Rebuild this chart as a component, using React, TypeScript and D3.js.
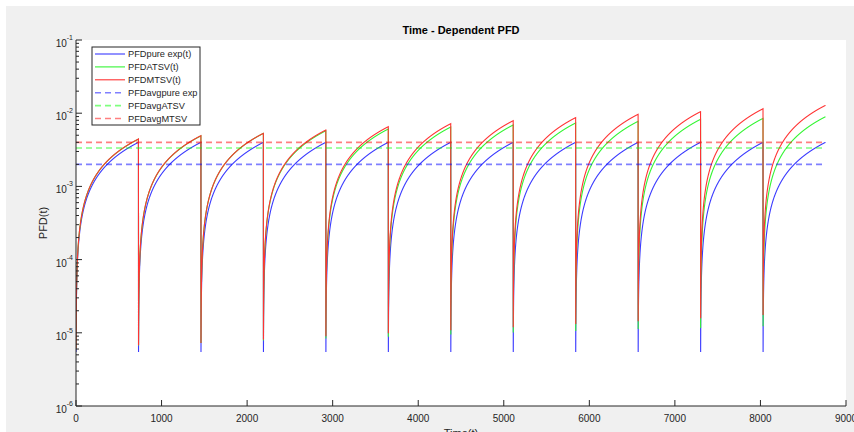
import React from "react";
import * as d3 from "d3";

// ---- data ----
const INTERVAL_HOURS = 730; // proof-test interval
const N_INTERVALS = 12;
// PFD value reached at the end of each test interval
const PEAK_PURE = [4.0e-3, 4.0e-3, 4.0e-3, 4.0e-3, 4.0e-3, 4.0e-3, 4.0e-3, 4.0e-3, 4.0e-3, 4.0e-3, 4.0e-3, 4.0e-3];
const PEAK_ATSV = [4.42e-3, 4.9e-3, 5.3e-3, 5.75e-3, 6.08e-3, 6.47e-3, 6.9e-3, 7.35e-3, 7.75e-3, 8.25e-3, 8.5e-3, 8.95e-3];
const PEAK_MTSV = [4.44e-3, 4.93e-3, 5.31e-3, 5.89e-3, 6.54e-3, 7.19e-3, 7.9e-3, 8.7e-3, 9.66e-3, 10.5e-3, 11.5e-3, 12.8e-3];
// average PFD lines
const AVG_PURE = 2.0e-3;
const AVG_ATSV = 3.35e-3;
const AVG_MTSV = 4.0e-3;

const X_TICKS = [0, 1000, 2000, 3000, 4000, 5000, 6000, 7000, 8000, 9000];
const Y_EXPONENTS = [-6, -5, -4, -3, -2, -1];

const LEGEND = [
  { label: "PFDpure exp(t)", color: "#3a3aff", dashed: false },
  { label: "PFDATSV(t)", color: "#33f533", dashed: false },
  { label: "PFDMTSV(t)", color: "#ff3333", dashed: false },
  { label: "PFDavgpure exp", color: "#0000ff", dashed: true },
  { label: "PFDavgATSV", color: "#00ff00", dashed: true },
  { label: "PFDavgMTSV", color: "#ff0000", dashed: true },
];

// build time series: PFD accumulates linearly inside each interval (sampled hourly)
function buildSeries(peaks: number[]): [number, number][] {
  const pts: [number, number][] = [];
  for (let k = 0; k < N_INTERVALS; k++) {
    for (let tau = 1; tau <= INTERVAL_HOURS; tau++) {
      pts.push([k * INTERVAL_HOURS + tau, (peaks[k] * tau) / INTERVAL_HOURS]);
    }
  }
  return pts;
}

const W = 854;
const H = 432;
const L = 76, R = 846, T = 40, B = 406;
const AX = "#262626";
const FONT = "'Liberation Sans', Arial, Helvetica, sans-serif";

export default function App() {
  const x = d3.scaleLinear().domain([0, 9000]).range([L, R]);
  const y = d3.scaleLog().domain([1e-6, 1e-1]).range([B, T]);
  const line = d3
    .line<[number, number]>()
    .x((d) => x(d[0]))
    .y((d) => y(d[1]));

  const series = [
    { data: buildSeries(PEAK_PURE), color: LEGEND[0].color },
    { data: buildSeries(PEAK_ATSV), color: LEGEND[1].color },
    { data: buildSeries(PEAK_MTSV), color: LEGEND[2].color },
  ];
  const avgs = [
    { v: AVG_PURE, color: "#0000ff" },
    { v: AVG_ATSV, color: "#00ff00" },
    { v: AVG_MTSV, color: "#ff0000" },
  ];
  const tEnd = N_INTERVALS * INTERVAL_HOURS;

  const minorTicks: number[] = [];
  for (let e = -6; e < -1; e++) {
    for (let m = 2; m <= 9; m++) minorTicks.push(m * Math.pow(10, e));
  }

  return (
    <svg
      width={W}
      height={H}
      style={{ position: "absolute", left: 0, top: 0, display: "block" }}
      fontFamily={FONT}
    >
      <rect x={0} y={0} width={W} height={H} fill="#ffffff" />
      <rect x={6} y={6} width={W - 6} height={H - 6} fill="#f0f0f0" />
      <rect x={L} y={T} width={R - L} height={B - T} fill="#ffffff" />

      <defs>
        <clipPath id="plotclip">
          <rect x={L} y={T} width={R - L} height={B - T} />
        </clipPath>
      </defs>

      <g clipPath="url(#plotclip)">
        {series.map((s, i) => (
          <path
            key={i}
            d={line(s.data) || ""}
            fill="none"
            stroke={s.color}
            strokeWidth={1.1}
          />
        ))}
        {avgs.map((a, i) => (
          <line
            key={i}
            x1={x(0)}
            x2={x(tEnd)}
            y1={y(a.v)}
            y2={y(a.v)}
            stroke={a.color}
            strokeWidth={1.6}
            strokeOpacity={0.5}
            strokeDasharray="6,4"
          />
        ))}
      </g>

      {/* axes */}
      <line x1={L} x2={R} y1={B} y2={B} stroke={AX} strokeWidth={1} />
      <line x1={L} x2={L} y1={T} y2={B} stroke={AX} strokeWidth={1} />

      {X_TICKS.map((t) => (
        <g key={t}>
          <line x1={x(t)} x2={x(t)} y1={B} y2={B - 6} stroke={AX} strokeWidth={1} />
          <text x={x(t)} y={421.5} fontSize={10} fill={AX} textAnchor="middle">
            {t}
          </text>
        </g>
      ))}

      {Y_EXPONENTS.map((e) => {
        const yy = y(Math.pow(10, e));
        return (
          <g key={e}>
            <line x1={L} x2={L + 6} y1={yy} y2={yy} stroke={AX} strokeWidth={1} />
            <text x={73} y={yy + 7} fontSize={10} fill={AX} textAnchor="end">
              <tspan>10</tspan>
              <tspan fontSize={7} dy={-7}>{String(e)}</tspan>
            </text>
          </g>
        );
      })}
      {minorTicks.map((v, i) => (
        <line key={i} x1={L} x2={L + 3} y1={y(v)} y2={y(v)} stroke={AX} strokeWidth={1} />
      ))}

      {/* titles */}
      <text x={461} y={33.5} fontSize={11} fontWeight="bold" fill="#000" textAnchor="middle">
        Time - Dependent PFD
      </text>
      <text x={461} y={437} fontSize={11} fill={AX} textAnchor="middle">
        Time(t)
      </text>
      <text
        transform={`translate(47, ${(T + B) / 2}) rotate(-90)`}
        fontSize={11}
        fill={AX}
        textAnchor="middle"
      >
        PFD(t)
      </text>

      {/* legend */}
      <rect x={92} y={47} width={108} height={78} fill="#ffffff" stroke={AX} strokeWidth={1} />
      {LEGEND.map((l, i) => {
        const ly = 54 + i * 12.9;
        return (
          <g key={l.label}>
            <line
              x1={95}
              x2={125}
              y1={ly}
              y2={ly}
              stroke={l.color}
              strokeWidth={l.dashed ? 1.6 : 1.1}
              strokeOpacity={l.dashed ? 0.5 : 1}
              strokeDasharray={l.dashed ? "6,4" : undefined}
            />
            <text x={128} y={ly + 3.3} fontSize={9.25} fill={AX}>
              {l.label}
            </text>
          </g>
        );
      })}
    </svg>
  );
}
